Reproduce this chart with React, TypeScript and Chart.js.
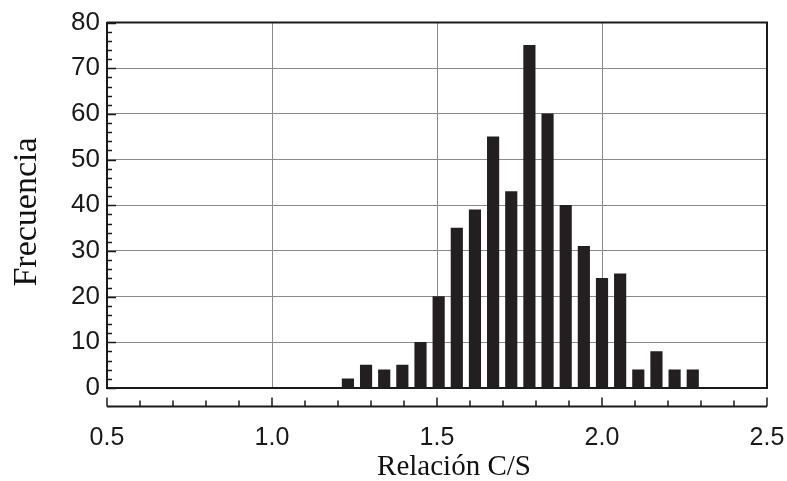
import React, { useEffect, useRef } from "react";
import { Chart, registerables } from "chart.js";

Chart.register(...registerables);

const binCenters = [1.23, 1.285, 1.34, 1.395, 1.45, 1.505, 1.56, 1.615, 1.67, 1.725, 1.78, 1.835, 1.89, 1.945, 2.0, 2.055, 2.11, 2.165, 2.22, 2.275];
const frequencies = [2, 5, 4, 5, 10, 20, 35, 39, 55, 43, 75, 60, 40, 31, 24, 25, 4, 8, 4, 4];
const xMin = 0.5;
const xMax = 2.5;
const xMajorStep = 0.5;
const xMinorStep = 0.1;
const yMin = 0;
const yMax = 80;
const yMajorStep = 10;
const yMinorStep = 2;
const xTitle = "Relación C/S";
const yTitle = "Frecuencia";

const framePlugin = {
  id: "frame",
  afterDraw(chart: any) {
    const { ctx, chartArea } = chart;
    const xs = chart.scales.x;
    const ys = chart.scales.y;
    const { left, right, top, bottom } = chartArea;
    ctx.save();
    ctx.strokeStyle = "#1a1a1a";
    ctx.lineWidth = 2;
    ctx.beginPath();
    ctx.moveTo(left, top);
    ctx.lineTo(right, top);
    ctx.lineTo(right, bottom);
    ctx.stroke();
    // y inward ticks
    ctx.lineWidth = 1.5;
    const ny = Math.round((ys.max - ys.min) / yMinorStep);
    for (let i = 0; i <= ny; i++) {
      const v = ys.min + i * yMinorStep;
      const y = Math.round(ys.getPixelForValue(v)) + 0.5;
      const len = v % yMajorStep === 0 ? 9 : 5;
      ctx.beginPath();
      ctx.moveTo(left, y);
      ctx.lineTo(left + len, y);
      ctx.stroke();
    }
    // separate x axis below the plot
    const axisY = bottom + 18.5;
    ctx.lineWidth = 2;
    const x0 = xs.getPixelForValue(xs.min);
    const x1 = xs.getPixelForValue(xs.max);
    ctx.beginPath();
    ctx.moveTo(x0, axisY);
    ctx.lineTo(x1, axisY);
    ctx.stroke();
    ctx.lineWidth = 1.5;
    const nx = Math.round((xs.max - xs.min) / xMinorStep);
    for (let i = 0; i <= nx; i++) {
      const v = xs.min + i * xMinorStep;
      const x = xs.getPixelForValue(v);
      const major = i % 5 === 0;
      ctx.beginPath();
      ctx.moveTo(x, axisY);
      ctx.lineTo(x, axisY - (major ? 9 : 6));
      ctx.stroke();
    }
    // axis titles
    ctx.fillStyle = "#111";
    ctx.font = '29px "Liberation Serif", "Times New Roman", serif';
    ctx.textAlign = "center";
    ctx.textBaseline = "middle";
    ctx.fillText(xTitle, 454, 467);
    ctx.translate(27, 212);
    ctx.rotate(-Math.PI / 2);
    ctx.font = '34px "Liberation Serif", "Times New Roman", serif';
    ctx.fillText(yTitle, 0, 0);
    ctx.restore();
  },
};

export default function App() {
  const canvasRef = useRef<HTMLCanvasElement | null>(null);

  useEffect(() => {
    const canvas = canvasRef.current;
    if (!canvas) return;
    const chart = new Chart(canvas, {
      type: "bar",
      data: {
        datasets: [
          {
            data: binCenters.map((x, i) => ({ x, y: frequencies[i] })),
            backgroundColor: "#231f20",
            borderWidth: 0,
            barThickness: 11.5,
          },
        ],
      },
      options: {
        animation: false,
        responsive: true,
        maintainAspectRatio: false,
        layout: { padding: { left: 0, top: 18, right: 20, bottom: 0 } },
        plugins: { legend: { display: false }, tooltip: { enabled: false } },
        scales: {
          x: {
            type: "linear",
            min: xMin,
            max: xMax,
            offset: false,
            afterFit: (s: any) => {
              s.height = 93;
              s.paddingLeft = 0;
              s.paddingRight = 0;
            },
            grid: { color: "#8a8a8a", lineWidth: 1, drawTicks: false, offset: false },
            border: { color: "#1a1a1a", width: 2 },
            ticks: {
              stepSize: xMajorStep,
              autoSkip: false,
              maxRotation: 0,
              padding: 35,
              color: "#1a1a1a",
              font: { family: '"Liberation Sans", Arial, sans-serif', size: 25 },
              callback: (v: any) => Number(v).toFixed(1),
            },
          },
          y: {
            min: yMin,
            max: yMax,
            afterFit: (s: any) => {
              s.width = 107;
            },
            grid: { color: "#8a8a8a", lineWidth: 1, drawTicks: false },
            border: { color: "#1a1a1a", width: 2 },
            ticks: {
              stepSize: yMajorStep,
              autoSkip: false,
              padding: 7,
              color: "#1a1a1a",
              font: { family: '"Liberation Sans", Arial, sans-serif', size: 26 },
            },
          },
        },
      },
      plugins: [framePlugin],
    } as any);
    return () => chart.destroy();
  }, []);

  return (
    <div style={{ position: "fixed", left: 0, top: 0, width: 787, height: 481, background: "#fff" }}>
      <canvas ref={canvasRef} />
    </div>
  );
}
